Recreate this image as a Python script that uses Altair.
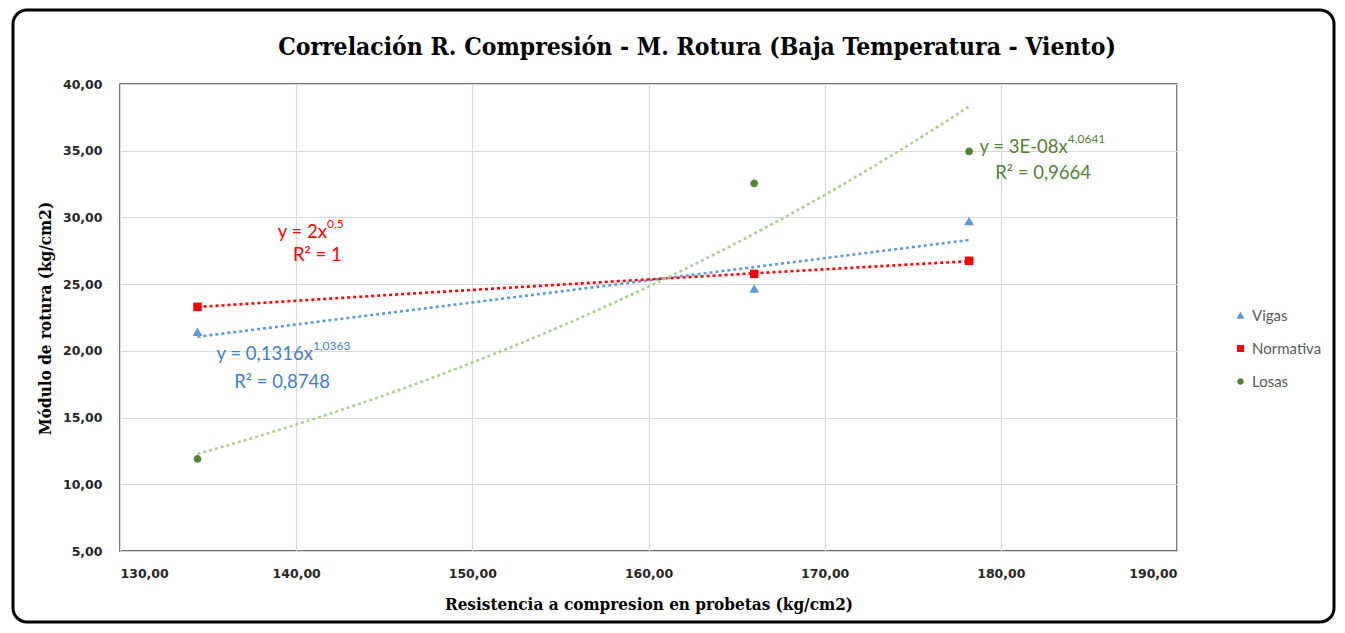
import altair as alt
import pandas as pd

# ---------------- data ----------------
series = ["Vigas", "Normativa", "Losas"]
x_vals = [134.4, 166.0, 178.2]
y_vigas = [21.4, 24.65, 29.7]
y_normativa = [23.3, 25.77, 26.75]
y_losas = [11.9, 32.55, 34.95]

x_ticks = [130, 140, 150, 160, 170, 180, 190]
y_ticks = [5, 10, 15, 20, 25, 30, 35, 40]

point_colors = ["#5b9bd5", "#ff0000", "#548235"]
trend_colors = ["#5b9bd5", "#ff0000", "#a9d18e"]
text_colors = ["#ff0000", "#3f7fc6", "#548235"]
shapes = ["M0,-1.1L1.15,0.9L-1.15,0.9Z", "square",
          "M0.92,0A0.92,0.92,0,1,1,-0.92,0A0.92,0.92,0,1,1,0.92,0Z"]

eq_main = ["y = 2x", "y = 0,1316x", "y = 3E-08x"]
eq_sup = ["0,5", "1,0363", "4,0641"]
eq_x = [141.75, 140.95, 183.8]
eq_y = [28.9, 19.8, 35.3]
r2_text = ["R² = 1", "R² = 0,8748", "R² = 0,9664"]
r2_x = [141.2, 139.2, 182.4]
r2_y = [27.2, 17.7, 33.35]

title_text = "Correlación R. Compresión - M. Rotura (Baja Temperatura - Viento)"
x_title = "Resistencia a compresion en probetas (kg/cm2)"
y_title = "Módulo de rotura (kg/cm2)"

# ---------------- tables ----------------
rows = []
for s, ys, tc in zip(series, [y_vigas, y_normativa, y_losas], trend_colors):
    for xv, yv in zip(x_vals, ys):
        rows.append({"serie": s, "tcolor": tc, "x": xv, "y": yv})
df = pd.DataFrame(rows)

ann = pd.DataFrame({"main": eq_main, "sup": eq_sup, "ex": eq_x, "ey": eq_y,
                    "r2": r2_text, "rx": r2_x, "ry": r2_y, "col": text_colors})

xs = alt.Scale(domain=[130, 190], nice=False, zero=False)
ys = alt.Scale(domain=[5, 40], nice=False, zero=False)
fmt = "replace(format(datum.value, '.2f'), '.', ',')"
serif = "DejaVu Serif Condensed"
sans = "Lato"

base = alt.Chart(df)

trend = base.transform_regression(
    "x", "y", groupby=["tcolor"], method="pow"
).mark_line(strokeDash=[3, 3], strokeWidth=2.6).encode(
    x=alt.X("x:Q", scale=xs,
            axis=alt.Axis(values=x_ticks, labelExpr=fmt, title=x_title,
                          titleY=53, titleBaseline="middle")),
    y=alt.Y("y:Q", scale=ys,
            axis=alt.Axis(values=y_ticks, labelExpr=fmt, title=y_title,
                          titleX=-75, titleY=234, titleBaseline="middle")),
    stroke=alt.Stroke("tcolor:N", scale=None),
)

points = base.mark_point(filled=True, opacity=1, size=72).encode(
    x=alt.X("x:Q", scale=xs),
    y=alt.Y("y:Q", scale=ys),
    color=alt.Color("serie:N", scale=alt.Scale(domain=series, range=point_colors),
                    legend=alt.Legend(title=None, orient="none", legendX=1113, legendY=224,
                                      rowPadding=17, labelFont=sans, labelFontSize=15,
                                      labelColor="#595959", symbolSize=50, labelOffset=4)),
    shape=alt.Shape("serie:N", scale=alt.Scale(domain=series, range=shapes)),
)

abase = alt.Chart(ann)
eq1 = abase.mark_text(align="right", baseline="middle", font=sans, fontSize=18.5).encode(
    x=alt.X("ex:Q", scale=xs), y=alt.Y("ey:Q", scale=ys),
    text="main:N", fill=alt.Fill("col:N", scale=None))
eq2 = abase.mark_text(align="left", baseline="middle", font=sans, fontSize=12, dy=-8, dx=0).encode(
    x=alt.X("ex:Q", scale=xs), y=alt.Y("ey:Q", scale=ys),
    text="sup:N", fill=alt.Fill("col:N", scale=None))
eq3 = abase.mark_text(align="center", baseline="middle", font=sans, fontSize=18.5).encode(
    x=alt.X("rx:Q", scale=xs), y=alt.Y("ry:Q", scale=ys),
    text="r2:N", fill=alt.Fill("col:N", scale=None))

one = alt.Chart(pd.DataFrame({"t": [title_text]}))
title = one.mark_text(font=serif, fontSize=24.5, fontWeight="bold", color="#000000",
                      align="center", baseline="middle").encode(
    x=alt.value(577), y=alt.value(-36), text="t:N")
frame = one.mark_rect(filled=False, stroke="#000000", strokeWidth=3, cornerRadius=14).encode(
    x=alt.value(-107), x2=alt.value(1214), y=alt.value(-74), y2=alt.value(538))

chart = alt.layer(frame, title, trend, points, eq1, eq2, eq3).properties(
    width=1057, height=467,
    autosize=alt.AutoSizeParams(type="none"),
    padding={"left": 112, "top": 76, "right": 160, "bottom": 74},
    background="white",
).configure_view(
    stroke="#404040", strokeWidth=1.5
).configure_axis(
    domain=False, ticks=False, grid=True, gridColor="#d9d9d9", gridWidth=1.2,
    labelFont="DejaVu Sans", labelFontSize=12.5, labelFontWeight="bold", labelColor="#262626",
    titleFont=serif, titleFontSize=17, titleFontWeight="bold", titleColor="#000000",
).configure_axisY(labelPadding=18).configure_axisX(labelPadding=16)

chart.save("out.html", embed_options={"renderer": "svg", "actions": False})
